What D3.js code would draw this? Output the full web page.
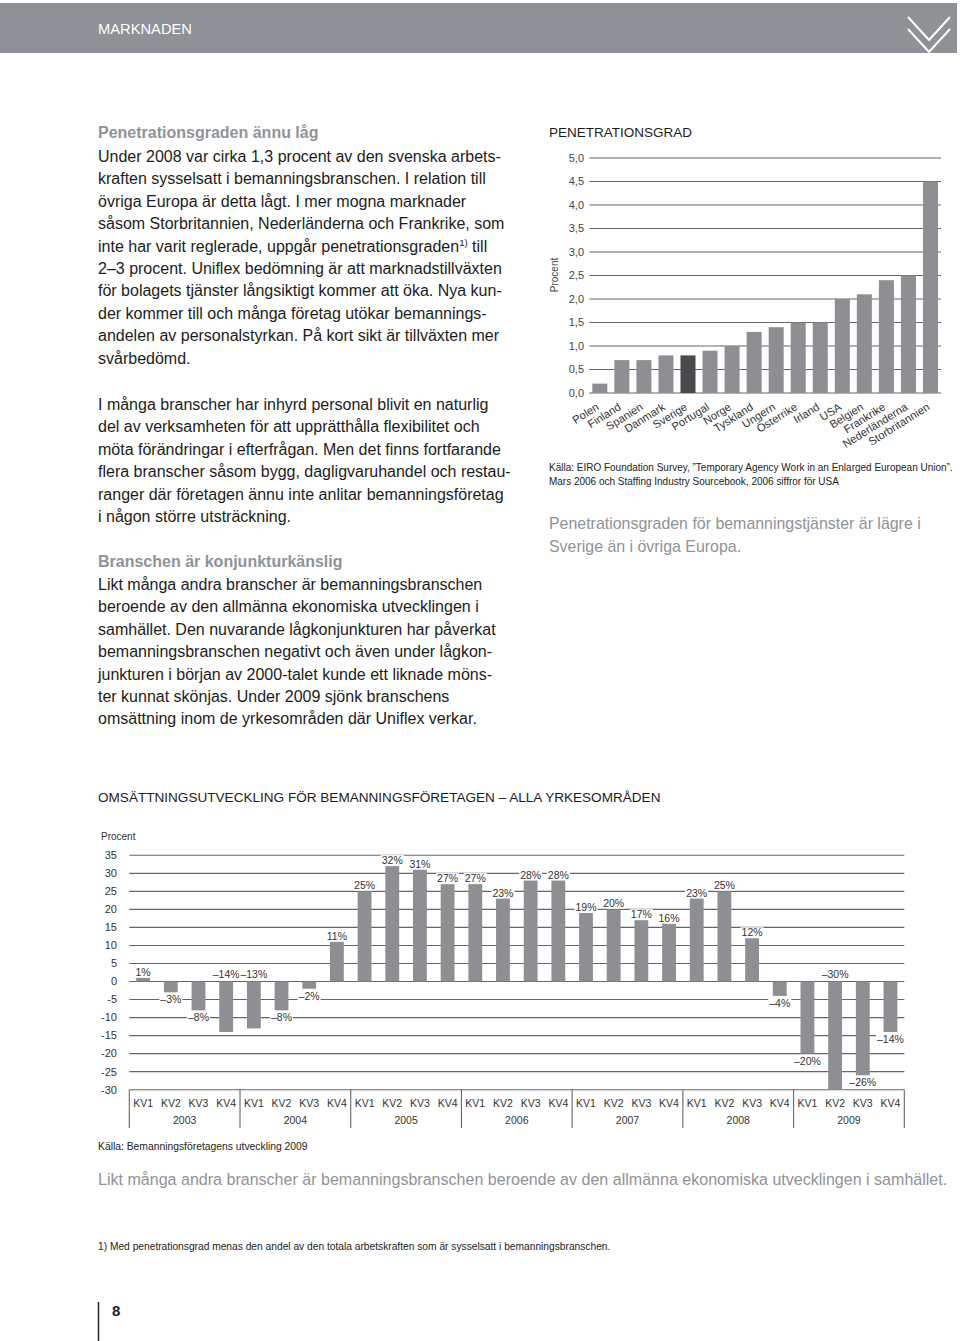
<!DOCTYPE html>
<html><head><meta charset="utf-8">
<script src="https://cdn.jsdelivr.net/npm/d3@7"></script>
<style>
body{margin:0;background:#fff;}
svg{display:block;font-family:"Liberation Sans",Arial,sans-serif;}
</style></head><body>
<svg id="page" width="960" height="1341"></svg>
<script>
// ---------- DATA ----------
const penCountries = ["Polen","Finland","Spanien","Danmark","Sverige","Portugal","Norge","Tyskland","Ungern","Österrike","Irland","USA","Belgien","Frankrike","Nederländerna","Storbritannien"];
const penValues = [0.2,0.7,0.7,0.8,0.8,0.9,1.0,1.3,1.4,1.5,1.5,2.0,2.1,2.4,2.5,4.5];
const penHighlight = "Sverige";
const penTicks = [0,0.5,1,1.5,2,2.5,3,3.5,4,4.5,5];

const revYears = ["2003","2004","2005","2006","2007","2008","2009"];
const revQuarters = ["KV1","KV2","KV3","KV4"];
const revValues = [1,-3,-8,-14, -13,-8,-2,11, 25,32,31,27, 27,23,28,28, 19,20,17,16, 23,25,12,-4, -20,-30,-26,-14];
const revTicks = [35,30,25,20,15,10,5,0,-5,-10,-15,-20,-25,-30];
const revLabelAtTop = ["2003 KV4","2004 KV1","2009 KV2"];

// ---------- TEXT ----------
const block1Head = "Penetrationsgraden ännu låg";
const block1 = [
 "Under 2008 var cirka 1,3 procent av den svenska arbets-",
 "kraften sysselsatt i bemanningsbranschen. I relation till",
 "övriga Europa är detta lågt. I mer mogna marknader",
 "såsom Storbritannien, Nederländerna och Frankrike, som",
 "inte har varit reglerade, uppgår penetrationsgraden|1)| till",
 "2–3 procent. Uniflex bedömning är att marknadstillväxten",
 "för bolagets tjänster långsiktigt kommer att öka. Nya kun-",
 "der kommer till och många företag utökar bemannings-",
 "andelen av personalstyrkan. På kort sikt är tillväxten mer",
 "svårbedömd."
];
const block2 = [
 "I många branscher har inhyrd personal blivit en naturlig",
 "del av verksamheten för att upprätthålla flexibilitet och",
 "möta förändringar i efterfrågan. Men det finns fortfarande",
 "flera branscher såsom bygg, dagligvaruhandel och restau-",
 "ranger där företagen ännu inte anlitar bemanningsföretag",
 "i någon större utsträckning."
];
const block3Head = "Branschen är konjunkturkänslig";
const block3 = [
 "Likt många andra branscher är bemanningsbranschen",
 "beroende av den allmänna ekonomiska utvecklingen i",
 "samhället. Den nuvarande lågkonjunkturen har påverkat",
 "bemanningsbranschen negativt och även under lågkon-",
 "junkturen i början av 2000-talet kunde ett liknade möns-",
 "ter kunnat skönjas. Under 2009 sjönk branschens",
 "omsättning inom de yrkesområden där Uniflex verkar."
];

const svg = d3.select("#page");
const BAR = "#8d8f93", DARK = "#4a4a4e", GRID = "#666", HEADGREY = "#8f9398";

function fit(text, target, base, weight){
  const t = svg.append("text").attr("font-size", base).attr("font-weight", weight||"normal").text(text);
  const w = t.node().getComputedTextLength(); t.remove();
  return base * target / w;
}

// ---------- HEADER ----------
svg.append("rect").attr("x",0).attr("y",3).attr("width",957).attr("height",50).attr("fill","#8e9195");
svg.append("text").attr("x",98).attr("y",34).attr("fill","#fff").attr("font-size",15.5)
  .attr("textLength",94).attr("lengthAdjust","spacingAndGlyphs").text("MARKNADEN");
[[17,40],[29,52]].forEach(([a,b])=>{
  svg.append("polyline").attr("points",`908,${a} 929,${b} 950,${a}`).attr("fill","none").attr("stroke","#fff").attr("stroke-width",2);
});

// ---------- LEFT TEXT ----------
const bodySize = fit("ranger där företagen ännu inte anlitar bemanningsföretag", 406, 16);
const lh = 22.4;
function para(lines, y0){
  lines.forEach((ln,i)=>{
    const t = svg.append("text").attr("x",98).attr("y",y0+i*lh).attr("font-size",bodySize).attr("fill","#1c1c1c");
    ln.split("|").forEach((p,j)=>{
      if(j===1) t.append("tspan").attr("font-size",bodySize*0.6).attr("dy",-6).text(p);
      else if(j===2) t.append("tspan").attr("dy",6).text(p);
      else t.append("tspan").text(p);
    });
  });
}
svg.append("text").attr("x",98).attr("y",138).attr("font-size",bodySize).attr("font-weight","bold").attr("fill",HEADGREY).text(block1Head);
para(block1, 162);
para(block2, 410);
svg.append("text").attr("x",98).attr("y",567).attr("font-size",bodySize).attr("font-weight","bold").attr("fill",HEADGREY).text(block3Head);
para(block3, 590);

// ---------- PENETRATION CHART ----------
svg.append("text").attr("x",549).attr("y",137).attr("font-size",13.5).attr("fill","#1c1c1c").text("PENETRATIONSGRAD");
const yPen = d3.scaleLinear().domain([0,5]).range([393,158]);
const xPen = d3.scaleBand().domain(penCountries).range([589.3,941]).paddingInner(0.318).paddingOuter(0.136);
const gPen = svg.append("g");
gPen.selectAll("line.grid").data(penTicks).join("line")
  .attr("x1",589.3).attr("x2",941).attr("y1",d=>yPen(d)).attr("y2",d=>yPen(d))
  .attr("stroke",GRID).attr("stroke-width",1.2);
gPen.selectAll("text.tick").data(penTicks).join("text")
  .attr("x",584).attr("y",d=>yPen(d)).attr("dy","0.35em").attr("text-anchor","end")
  .attr("font-size",11).attr("fill","#444").text(d=>d3.format(".1f")(d).replace(".",","));
gPen.selectAll("rect").data(penCountries).join("rect")
  .attr("x",d=>xPen(d)).attr("width",xPen.bandwidth())
  .attr("y",(d,i)=>yPen(penValues[i])).attr("height",(d,i)=>yPen(0)-yPen(penValues[i]))
  .attr("fill",d=>d===penHighlight?DARK:BAR);
gPen.selectAll("text.xl").data(penCountries).join("text")
  .attr("transform",d=>`translate(${xPen(d)+xPen.bandwidth()/2},409) rotate(-32)`)
  .attr("text-anchor","end").attr("font-size",11.2).attr("fill","#333").text(d=>d);
svg.append("text").attr("transform","translate(558,275) rotate(-90)").attr("text-anchor","middle")
  .attr("font-size",10).attr("fill","#444").text("Procent");

const srcSize = fit("Källa: EIRO Foundation Survey, ”Temporary Agency Work in an Enlarged European Union”.", 404, 10);
svg.append("text").attr("x",549).attr("y",470.5).attr("font-size",srcSize).attr("fill","#222")
  .text("Källa: EIRO Foundation Survey, ”Temporary Agency Work in an Enlarged European Union”.");
svg.append("text").attr("x",549).attr("y",485).attr("font-size",srcSize).attr("fill","#222")
  .text("Mars 2006 och Staffing Industry Sourcebook, 2006 siffror för USA");
const capSize = fit("Penetrationsgraden för bemanningstjänster är lägre i", 372, 15);
svg.append("text").attr("x",549).attr("y",529).attr("font-size",capSize).attr("fill","#8f9296")
  .text("Penetrationsgraden för bemanningstjänster är lägre i");
svg.append("text").attr("x",549).attr("y",552).attr("font-size",capSize).attr("fill","#8f9296")
  .text("Sverige än i övriga Europa.");

// ---------- REVENUE CHART ----------
svg.append("text").attr("x",98).attr("y",802).attr("font-size",fit("OMSÄTTNINGSUTVECKLING FÖR BEMANNINGSFÖRETAGEN – ALLA YRKESOMRÅDEN",563,13.5)).attr("fill","#1c1c1c")
  .text("OMSÄTTNINGSUTVECKLING FÖR BEMANNINGSFÖRETAGEN – ALLA YRKESOMRÅDEN");
svg.append("text").attr("x",101).attr("y",840).attr("font-size",10).attr("fill","#333").text("Procent");

const revKeys = [];
revYears.forEach(y=>revQuarters.forEach(q=>revKeys.push(y+" "+q)));
const revData = revKeys.map((k,i)=>({key:k, year:k.split(" ")[0], q:k.split(" ")[1], v:revValues[i]}));
const yRev = d3.scaleLinear().domain([-30,35]).range([1089.7,855.3]);
const xRev = d3.scaleBand().domain(revKeys).range([129.3,904.3]).paddingInner(0.5).paddingOuter(0.25);
const gRev = svg.append("g");
gRev.selectAll("line.grid").data(revTicks).join("line")
  .attr("x1",129.3).attr("x2",904.3).attr("y1",d=>yRev(d)).attr("y2",d=>yRev(d))
  .attr("stroke",GRID).attr("stroke-width",1.1);
gRev.selectAll("text.tick").data(revTicks).join("text")
  .attr("x",117).attr("y",d=>yRev(d)).attr("dy","0.35em").attr("text-anchor","end")
  .attr("font-size",11).attr("fill","#333").text(d=>String(d));
gRev.selectAll("rect.bar").data(revData).join("rect")
  .attr("x",d=>xRev(d.key)).attr("width",xRev.bandwidth())
  .attr("y",d=>yRev(Math.max(0,d.v))).attr("height",d=>Math.abs(yRev(d.v)-yRev(0)))
  .attr("fill",BAR);
const fmt = v => (v<0?"–"+Math.abs(v):String(v))+"%";
revData.forEach(d=>{
  const cx = xRev(d.key)+xRev.bandwidth()/2;
  let y;
  if(revLabelAtTop.includes(d.key)) y = yRev(0)-3.5;
  else if(d.v>=0) y = yRev(d.v)-2;
  else y = yRev(d.v)+11;
  const t = gRev.append("text").attr("x",cx).attr("y",y).attr("text-anchor","middle")
    .attr("font-size",10.5).attr("fill","#333").text(fmt(d.v));
  const bb = t.node().getBBox();
  gRev.insert("rect","text:last-child").attr("x",bb.x-1).attr("y",bb.y+1).attr("width",bb.width+2).attr("height",bb.height-2).attr("fill","#fff");
});
const step = xRev.step();
const bounds = revYears.map(y=>xRev(y+" KV1")-step*0.25).concat([904.3]);
gRev.selectAll("line.sep").data(bounds).join("line")
  .attr("x1",d=>d).attr("x2",d=>d).attr("y1",yRev(-30)).attr("y2",1128)
  .attr("stroke",GRID).attr("stroke-width",1.1);
gRev.selectAll("text.q").data(revData).join("text")
  .attr("x",d=>xRev(d.key)+xRev.bandwidth()/2).attr("y",1107).attr("text-anchor","middle")
  .attr("font-size",10.5).attr("fill","#333").text(d=>d.q);
gRev.selectAll("text.yr").data(revYears).join("text")
  .attr("x",(d,i)=>(bounds[i]+bounds[i+1])/2).attr("y",1124).attr("text-anchor","middle")
  .attr("font-size",10.5).attr("fill","#333").text(d=>d);

svg.append("text").attr("x",98).attr("y",1150).attr("font-size",fit("Källa: Bemanningsföretagens utveckling 2009",210,10)).attr("fill","#222")
  .text("Källa: Bemanningsföretagens utveckling 2009");
svg.append("text").attr("x",98).attr("y",1185).attr("font-size",fit("Likt många andra branscher är bemanningsbranschen beroende av den allmänna ekonomiska utvecklingen i samhället.",850,15)).attr("fill","#8f9296")
  .text("Likt många andra branscher är bemanningsbranschen beroende av den allmänna ekonomiska utvecklingen i samhället.");
svg.append("text").attr("x",98).attr("y",1250).attr("font-size",fit("1) Med penetrationsgrad menas den andel av den totala arbetskraften som är sysselsatt i bemanningsbranschen.",513,10)).attr("fill","#222")
  .text("1) Med penetrationsgrad menas den andel av den totala arbetskraften som är sysselsatt i bemanningsbranschen.");

svg.append("line").attr("x1",98.5).attr("x2",98.5).attr("y1",1302).attr("y2",1341).attr("stroke","#222").attr("stroke-width",1.5);
svg.append("text").attr("x",112).attr("y",1316).attr("font-size",15).attr("font-weight","bold").attr("fill","#222").text("8");
</script>
</body></html>
